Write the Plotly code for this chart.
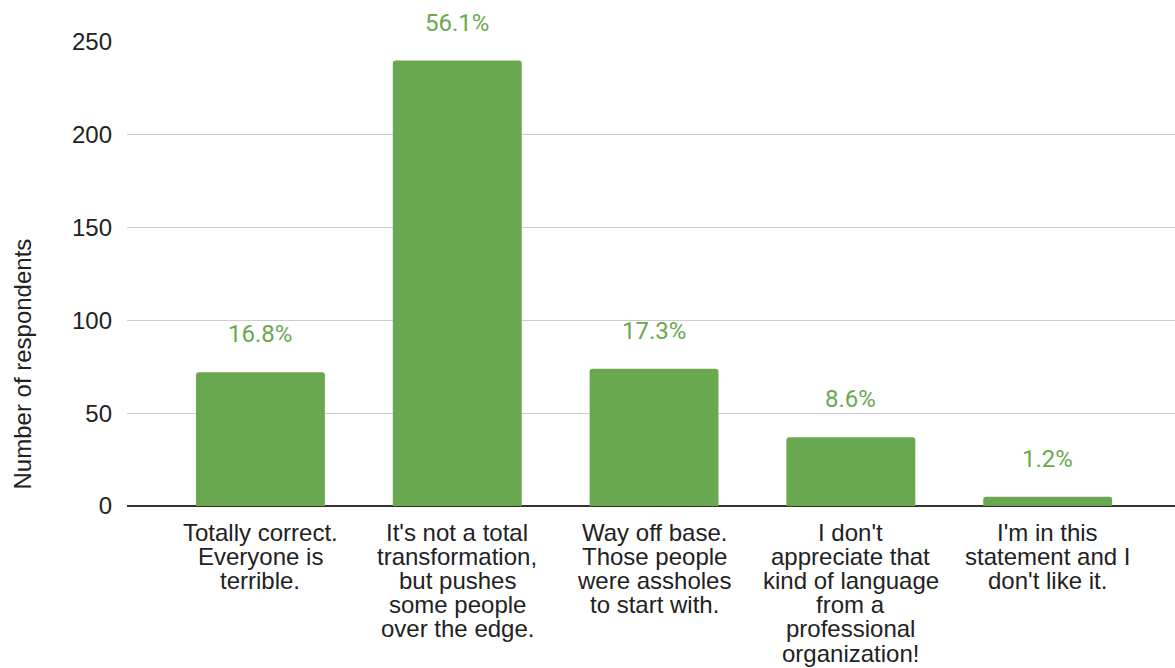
import plotly.graph_objects as go

# Survey responses: answer options and respondent counts
categories = [
    "Totally correct.\nEveryone is\nterrible.",
    "It's not a total\ntransformation,\nbut pushes\nsome people\nover the edge.",
    "Way off base.\nThose people\nwere assholes\nto start with.",
    "I don't\nappreciate that\nkind of language\nfrom a\nprofessional\norganization!",
    "I'm in this\nstatement and I\ndon't like it.",
]
counts = [72, 240, 74, 37, 5]
y_ticks = [0, 50, 100, 150, 200, 250]

total = sum(counts)
shares = [f"{c / total * 100:.1f}%" for c in counts]
xs = list(range(len(categories)))

GREEN = "#6aa84f"
TEXT = "#222222"

fig = go.Figure()
fig.add_trace(go.Bar(
    x=xs,
    y=counts,
    width=0.655,
    marker=dict(color=GREEN, line=dict(width=0), cornerradius=3),
    hoverinfo="skip",
))

annotations = []
# percentage labels above each bar
for x, c, s in zip(xs, counts, shares):
    annotations.append(dict(
        x=x, y=c, xref="x", yref="y", text=s, showarrow=False,
        yanchor="middle", yshift=38,
        font=dict(family="Roboto", size=24, color=GREEN),
    ))
# category labels, one line per annotation for tight line spacing
for x, lab in zip(xs, categories):
    for j, line in enumerate(lab.split("\n")):
        annotations.append(dict(
            x=x, y=0, xref="x", yref="y", text=line, showarrow=False,
            yanchor="middle", yshift=-(26 + j * 24.2),
            font=dict(family="Liberation Sans, Arial", size=24, color=TEXT),
        ))
# y-axis title
annotations.append(dict(
    x=0, y=0.305, xref="paper", yref="paper", text="Number of respondents",
    showarrow=False, textangle=-90, xanchor="center", yanchor="middle",
    xshift=-105,
    font=dict(family="Liberation Sans, Arial", size=24, color=TEXT),
))

fig.update_layout(
    width=1175, height=668,
    margin=dict(l=127, r=0, t=42, b=162),
    paper_bgcolor="white", plot_bgcolor="white",
    showlegend=False,
    annotations=annotations,
    xaxis=dict(
        range=[-0.678, 4.647], showticklabels=False, showgrid=False,
        zeroline=False, showline=False, fixedrange=True,
    ),
    yaxis=dict(
        range=[0, 250], tickvals=y_ticks, showgrid=True,
        gridcolor="#cccccc", gridwidth=1,
        zeroline=True, zerolinecolor="#333333", zerolinewidth=2,
        ticks="", ticklabelstandoff=14,
        tickfont=dict(family="Liberation Sans, Arial", size=24, color=TEXT),
        fixedrange=True,
    ),
)

fig.write_html("out.html")
